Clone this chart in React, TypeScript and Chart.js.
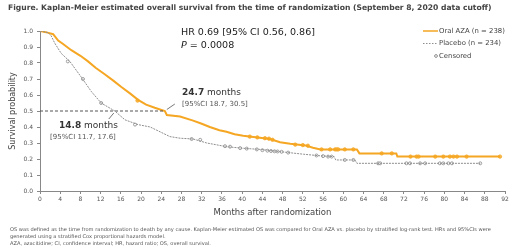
import React, { useEffect, useRef } from "react";
import { Chart, registerables } from "chart.js";

Chart.register(...registerables);

// ---------- data ----------
const azaMonths = [0, 1.5, 2.6, 3.6, 4.5, 6.2, 8, 9.5, 11, 12.8, 14.5, 16.1, 17.8, 19.4, 21, 22.7, 24.7, 25.1, 27.7, 30.3, 32, 33.6, 35.5, 36.9, 38.5, 40.2, 43.5, 45.5, 47.5, 49.5, 52.5, 54, 55.5, 62.7, 63.2, 70.5, 70.7, 91];
const azaSurv = [1.0, 0.99, 0.98, 0.94, 0.92, 0.88, 0.845, 0.81, 0.77, 0.73, 0.69, 0.65, 0.61, 0.57, 0.54, 0.52, 0.5, 0.475, 0.465, 0.44, 0.42, 0.4, 0.38, 0.37, 0.355, 0.345, 0.333, 0.325, 0.305, 0.295, 0.285, 0.27, 0.26, 0.26, 0.235, 0.235, 0.215, 0.215];

const pboMonths = [0, 1.6, 2.2, 2.9, 4.2, 5.9, 8.2, 10.2, 12.1, 14.8, 16.8, 19.4, 21.8, 24.4, 25.7, 27.7, 30.3, 33, 36.9, 40.2, 43.5, 47.5, 52.1, 55.4, 58.2, 58.5, 62.3, 62.7, 87.1];
const pboSurv = [1.0, 0.99, 0.97, 0.925, 0.86, 0.81, 0.71, 0.62, 0.55, 0.5, 0.445, 0.415, 0.4, 0.36, 0.34, 0.33, 0.325, 0.3, 0.277, 0.267, 0.26, 0.246, 0.23, 0.22, 0.215, 0.194, 0.194, 0.173, 0.173];

const azaCensorMonths = [19.3, 41.5, 43, 44.5, 45.3, 46, 50.5, 52, 53, 55.7, 57.4, 58.4, 58.7, 59, 60.3, 62, 67.6, 69.6, 73.3, 74.5, 74.9, 78.2, 79.8, 81.1, 81.8, 82.5, 84.4, 91];
const azaCensorSurv = [0.565, 0.34, 0.335, 0.33, 0.327, 0.32, 0.29, 0.287, 0.283, 0.26, 0.26, 0.26, 0.26, 0.26, 0.26, 0.26, 0.235, 0.235, 0.215, 0.215, 0.215, 0.215, 0.215, 0.215, 0.215, 0.215, 0.215, 0.215];

const pboCensorMonths = [5.5, 8.5, 12.1, 18.8, 30, 31.7, 36.6, 37.6, 39.6, 40.9, 42.9, 44, 45, 45.7, 46.4, 47, 47.8, 49.1, 54.7, 56, 57, 57.7, 60.3, 62, 66.9, 67.3, 72.5, 73.2, 75.2, 76.2, 79.1, 79.8, 80.8, 81.5, 87.1];
const pboCensorSurv = [0.81, 0.7, 0.55, 0.415, 0.325, 0.32, 0.28, 0.277, 0.268, 0.265, 0.26, 0.255, 0.252, 0.25, 0.248, 0.247, 0.245, 0.24, 0.222, 0.218, 0.215, 0.215, 0.194, 0.194, 0.173, 0.173, 0.173, 0.173, 0.173, 0.173, 0.173, 0.173, 0.173, 0.173, 0.173];

const medianAza = 24.7;
const medianPbo = 14.8;
const medianLevel = 0.5;

const xTickValues = [0, 4, 8, 12, 16, 20, 24, 28, 32, 36, 40, 44, 48, 52, 56, 60, 64, 68, 72, 76, 80, 84, 88, 92];
const yTickValues = [0, 0.1, 0.2, 0.3, 0.4, 0.5, 0.6, 0.7, 0.8, 0.9, 1.0];

const titleText = "Figure. Kaplan-Meier estimated overall survival from the time of randomization (September 8, 2020 data cutoff)";
const hrText = "HR 0.69 [95% CI 0.56, 0.86]";
const pText = " = 0.0008";
const legendAza = "Oral AZA (n = 238)";
const legendPbo = "Placebo (n = 234)";
const legendCens = "Censored";
const azaMedText = ["24.7", " months", "[95%CI 18.7, 30.5]"];
const pboMedText = ["14.8", " months", "[95%CI 11.7, 17.6]"];
const footnotes = [
  "OS was defined as the time from randomization to death by any cause. Kaplan-Meier estimated OS was compared for Oral AZA vs. placebo by stratified log-rank test. HRs and 95%CIs were",
  "generated using a stratified Cox proportional hazards model.",
  "AZA, azacitidine; CI, confidence interval; HR, hazard ratio; OS, overall survival.",
];

// ---------- styles ----------
const FONT = '"DejaVu Sans", Verdana, sans-serif';
const ORANGE = "#F5A623";
const GREY = "#8e8e8e";

const pts = (xs: number[], ys: number[]) => xs.map((x, i) => ({ x, y: ys[i] }));

function fitSize(ctx: CanvasRenderingContext2D, text: string, weight: string, width: number) {
  ctx.font = `${weight} 10px ${FONT}`;
  return (10 * width) / ctx.measureText(text).width;
}

const overlay = {
  id: "overlay",
  afterDraw(chart: any) {
    const ctx: CanvasRenderingContext2D = chart.ctx;
    const xs = chart.scales.x;
    const ys = chart.scales.y;
    ctx.save();
    ctx.textBaseline = "middle";
    ctx.textAlign = "left";

    // title
    const ts = fitSize(ctx, titleText, "bold", 484);
    ctx.font = `bold ${ts}px ${FONT}`;
    ctx.fillStyle = "#444";
    ctx.fillText(titleText, 8, 8);

    // HR / P
    const hs = fitSize(ctx, hrText, "normal", 134);
    ctx.font = `normal ${hs}px ${FONT}`;
    ctx.fillStyle = "#222";
    ctx.fillText(hrText, 181, 33);
    ctx.font = `italic normal ${hs}px ${FONT}`;
    ctx.fillText("P", 181, 46);
    const pw = ctx.measureText("P").width;
    ctx.font = `normal ${hs}px ${FONT}`;
    ctx.fillText(pText, 181 + pw, 46);

    // legend
    const ls = fitSize(ctx, legendAza, "normal", 66);
    ctx.font = `normal ${ls}px ${FONT}`;
    ctx.fillStyle = "#444";
    ctx.strokeStyle = ORANGE;
    ctx.lineWidth = 1.5;
    ctx.beginPath(); ctx.moveTo(423, 31); ctx.lineTo(438, 31); ctx.stroke();
    ctx.fillText(legendAza, 439, 31);
    ctx.strokeStyle = GREY;
    ctx.lineWidth = 1;
    ctx.setLineDash([1.5, 1.5]);
    ctx.beginPath(); ctx.moveTo(423, 43.5); ctx.lineTo(438, 43.5); ctx.stroke();
    ctx.setLineDash([]);
    ctx.fillText(legendPbo, 439, 43.5);
    ctx.beginPath(); ctx.arc(436, 56, 1.4, 0, Math.PI * 2); ctx.stroke();
    ctx.fillText(legendCens, 439, 56);

    // median annotations
    const drawMed = (parts: string[], x: number, y1: number, x2: number, y2: number) => {
      ctx.fillStyle = "#333";
      ctx.font = `bold 9px ${FONT}`;
      ctx.fillText(parts[0], x, y1);
      const w = ctx.measureText(parts[0]).width;
      ctx.font = `normal 9px ${FONT}`;
      ctx.fillText(parts[1], x + w, y1);
      ctx.font = `normal 7px ${FONT}`;
      ctx.fillStyle = "#555";
      ctx.fillText(parts[2], x2, y2);
    };
    drawMed(azaMedText, 182, 93, 182, 104);
    drawMed(pboMedText, 59, 126, 50, 137);

    ctx.strokeStyle = "#555";
    ctx.lineWidth = 0.8;
    const ax = xs.getPixelForValue(medianAza);
    const ay = ys.getPixelForValue(medianLevel);
    ctx.beginPath(); ctx.moveTo(ax + 2, ay - 1.5); ctx.lineTo(ax + 10, ay - 7); ctx.stroke();
    const bx = xs.getPixelForValue(medianPbo);
    const by = ys.getPixelForValue(medianLevel);
    ctx.beginPath(); ctx.moveTo(bx - 1, by + 2); ctx.lineTo(bx - 6, by + 8); ctx.stroke();

    // footnotes
    const fs = fitSize(ctx, footnotes[0], "normal", 482);
    ctx.font = `normal ${fs}px ${FONT}`;
    ctx.fillStyle = "#555";
    ctx.fillText(footnotes[0], 10, 230);
    ctx.fillText(footnotes[1], 10, 237);
    ctx.fillText(footnotes[2], 10, 244);
    ctx.restore();
  },
};

export default function App() {
  const ref = useRef<HTMLCanvasElement>(null);
  useEffect(() => {
    const chart = new Chart(ref.current as HTMLCanvasElement, {
      type: "scatter",
      data: {
        datasets: [
          {
            label: "median",
            data: [{ x: 0, y: medianLevel }, { x: medianAza, y: medianLevel }],
            showLine: true,
            borderColor: "#555",
            borderWidth: 1,
            borderDash: [3, 2],
            pointRadius: 0,
          },
          {
            label: "Placebo",
            data: pts(pboMonths, pboSurv),
            showLine: true,
            borderColor: GREY,
            borderWidth: 1,
            borderDash: [2, 1],
            pointRadius: 0,
          },
          {
            label: "Placebo censored",
            data: pts(pboCensorMonths, pboCensorSurv),
            showLine: false,
            pointStyle: "circle",
            pointRadius: 1.5,
            pointBorderWidth: 0.8,
            pointBorderColor: "#888",
            pointBackgroundColor: "#ffffff",
          },
          {
            label: "Oral AZA",
            data: pts(azaMonths, azaSurv),
            showLine: true,
            borderColor: ORANGE,
            borderWidth: 2,
            pointRadius: 0,
          },
          {
            label: "Oral AZA censored",
            data: pts(azaCensorMonths, azaCensorSurv),
            showLine: false,
            pointStyle: "circle",
            pointRadius: 1.7,
            pointBorderWidth: 0.8,
            pointBorderColor: ORANGE,
            pointBackgroundColor: "#F7B84A",
          },
        ],
      },
      options: {
        animation: false,
        responsive: false,
        devicePixelRatio: 1,
        layout: { padding: { left: 0, top: 31, right: 15, bottom: 0 } },
        plugins: { legend: { display: false }, tooltip: { enabled: false } },
        scales: {
          x: {
            type: "linear",
            min: 0,
            max: 92,
            afterBuildTicks: (s: any) => { s.ticks = xTickValues.map((v) => ({ value: v })); },
            afterFit: (s: any) => { s.height = 60; },
            ticks: { font: { family: FONT, size: 6 }, color: "#555", padding: 2, maxRotation: 0, autoSkip: false },
            grid: { display: true, drawOnChartArea: false, drawTicks: true, tickLength: 3, color: "#888" },
            border: { display: true, color: "#888" },
            title: { display: true, text: "Months after randomization", font: { family: FONT, size: 8.5 }, color: "#444", padding: { top: 0, bottom: 33 } },
          },
          y: {
            min: 0,
            max: 1,
            afterBuildTicks: (s: any) => { s.ticks = yTickValues.map((v) => ({ value: v })); },
            afterFit: (s: any) => { s.width = 40; },
            ticks: { font: { family: FONT, size: 6 }, color: "#555", padding: 4, callback: (v: any) => Number(v).toFixed(1) },
            grid: { display: true, drawOnChartArea: false, drawTicks: true, tickLength: 3, color: "#888" },
            border: { display: true, color: "#888" },
            title: { display: true, text: "Survival probability", font: { family: FONT, size: 8 }, color: "#444", padding: { top: 8, bottom: 0 } },
          },
        },
      },
      plugins: [overlay],
    } as any);
    return () => chart.destroy();
  }, []);
  return (
    <div style={{ position: "absolute", left: 0, top: 0, width: 520, height: 251, background: "#fff" }}>
      <canvas ref={ref} width={520} height={251} style={{ display: "block", width: 520, height: 251 }} />
    </div>
  );
}
